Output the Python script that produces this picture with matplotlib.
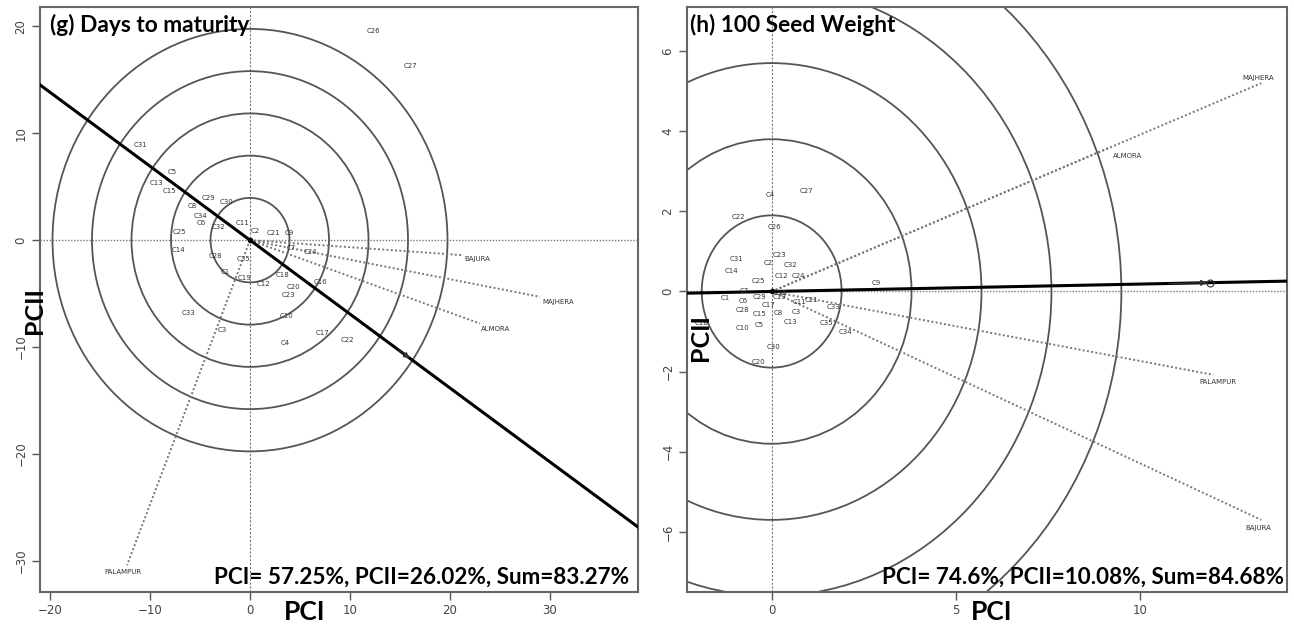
import matplotlib
matplotlib.use("Agg")
import matplotlib.pyplot as plt
from matplotlib.patches import Circle

# ---- (g) Days to maturity ----
g_gen = ["C26", "C27", "C31", "C5", "C13", "C15", "C29", "C30", "C8", "C34", "C6", "C32",
         "C11", "C2", "C21", "C9", "C25", "C14", "C28", "C35", "C1", "C19", "C7", "C24",
         "C12", "C18", "C20", "C23", "C16", "C10", "C33", "C3", "C4", "C17", "C22"]
g_gx = [12.3, 16.0, -10.9, -7.8, -9.4, -8.1, -4.2, -2.4, -5.8, -5.0, -4.9, -3.2,
        -0.8, 0.5, 2.3, 3.9, -7.1, -7.2, -3.5, -0.7, -2.5, -0.5, 4.1, 6.0,
        1.3, 3.3, 4.3, 3.8, 7.0, 3.7, -6.2, -2.8, 3.5, 7.2, 9.7]
g_gy = [19.6, 16.3, 8.9, 6.4, 5.3, 4.6, 3.9, 3.6, 3.2, 2.3, 1.6, 1.2,
        1.6, 0.9, 0.7, 0.7, 0.75, -0.9, -1.5, -1.8, -3.0, -3.5, -0.7, -1.1,
        -4.1, -3.3, -4.4, -5.1, -3.9, -7.1, -6.8, -8.4, -9.6, -8.7, -9.3]
g_env = ["BAJURA", "MAJHERA", "ALMORA", "PALAMPUR"]
g_ex = [21.2, 29.0, 23.0, -12.3]
g_ey = [-1.4, -5.3, -7.8, -30.4]
g_aec = (16.2, -11.2)
g_rings = [3.95, 7.9, 11.85, 15.8, 19.75]
g_xticks = [-20, -10, 0, 10, 20, 30]
g_yticks = [20, 10, 0, -10, -20, -30]

# ---- (h) 100 Seed Weight ----
h_gen = ["C4", "C27", "C22", "C26", "C31", "C2", "C23", "C32", "C14", "C12", "C24", "C25",
         "C7", "C1", "C6", "C29", "C19", "C17", "C8", "C3", "C13", "C28", "C15", "C10",
         "C5", "C11", "C21", "C30", "C20", "C33", "C35", "C34", "C9", "C18", "C16"]
h_gx = [-0.05, 0.95, -0.9, 0.08, -0.95, -0.1, 0.2, 0.5, -1.1, 0.27, 0.73, -0.35,
        -0.75, -1.27, -0.76, -0.32, 0.22, -0.08, 0.18, 0.68, 0.5, -0.8, -0.32, -0.8,
        -0.35, 0.76, 1.08, 0.05, -0.35, 1.68, 1.49, 2.0, 2.85, -1.9, 0.25]
h_gy = [2.4, 2.5, 1.85, 1.6, 0.8, 0.7, 0.9, 0.65, 0.5, 0.38, 0.38, 0.25,
        0.02, -0.17, -0.23, -0.13, -0.15, -0.33, -0.53, -0.5, -0.75, -0.45, -0.55, -0.9,
        -0.83, -0.25, -0.2, -1.38, -1.75, -0.38, -0.78, -1.0, 0.2, -0.78, -0.05]
h_env = ["MAJHERA", "ALMORA", "PALAMPUR", "BAJURA"]
h_ex = [13.3, 9.2, 12.0, 13.3]
h_ey = [5.2, 3.6, -2.08, -5.7]
h_aec = (11.9, 0.22)
h_rings = [1.9, 3.8, 5.7, 7.6, 9.5]
h_xticks = [0, 5, 10]
h_yticks = [6, 4, 2, 0, -2, -4, -6]

GRAY = "#555555"
DOT = (0, (1, 1.2))


def biplot(ax, gen, gx, gy, env, ex, ey, aec, rings, xlim, ylim, xticks, yticks, env_off):
    ax.set_xlim(*xlim)
    ax.set_ylim(*ylim)
    ax.axhline(0, color="#777777", lw=1.0, ls=DOT, zorder=1)
    ax.axvline(0, color="#777777", lw=0.8, ls=(0, (2, 1.5)), zorder=1)
    for r in rings:
        ax.add_patch(Circle((0, 0), r, fill=False, ec=GRAY, lw=1.3, zorder=2))
    for name, x, y, off in zip(env, ex, ey, env_off):
        ax.plot([0, x], [0, y], color="#777777", lw=1.4, ls=DOT, zorder=2)
        ax.annotate(name, (x, y), xytext=off[:2], textcoords="offset points",
                    ha=off[2], va="center", fontsize=5, color="#333333")
    # average environment axis through the origin
    k1 = xlim[1] / aec[0]
    k0 = xlim[0] / aec[0]
    ax.plot([k0 * aec[0], k1 * aec[0]], [k0 * aec[1], k1 * aec[1]], color="black", lw=2.2, zorder=3)
    ax.annotate("", xy=aec, xytext=(0.9 * aec[0], 0.9 * aec[1]),
                arrowprops=dict(arrowstyle="-|>", color="#333333", lw=0.8, mutation_scale=9), zorder=4)
    ax.plot([0], [0], "o", color="black", ms=3, zorder=4)
    for name, x, y in zip(gen, gx, gy):
        ax.text(x, y, name, fontsize=5, color="#333333", ha="center", va="center", zorder=5)
    ax.set_xticks(xticks)
    ax.set_yticks(yticks)
    ax.tick_params(direction="out", length=6, width=1, color="#555555",
                   labelsize=8.5, labelcolor="#444444", pad=3)
    for lab in ax.get_yticklabels():
        lab.set_rotation(90)
        lab.set_va("center")
    for s in ax.spines.values():
        s.set_color("#666666")
        s.set_linewidth(1.5)


fig = plt.figure(figsize=(12.94, 6.36), dpi=100)
W, H = 1294, 636
ax1 = fig.add_axes([40 / W, 44 / H, 598 / W, 585 / H])
ax2 = fig.add_axes([687 / W, 44 / H, 600 / W, 585 / H])

biplot(ax1, g_gen, g_gx, g_gy, g_env, g_ex, g_ey, g_aec, g_rings,
       (-21.0, 38.8), (-32.9, 21.8), g_xticks, g_yticks,
       [(2, -3, "left"), (2, -4, "left"), (1, -4, "left"), (-3, -5, "center")])
biplot(ax2, h_gen, h_gx, h_gy, h_env, h_ex, h_ey, h_aec, h_rings,
       (-2.3, 14.0), (-7.5, 7.1), h_xticks, h_yticks,
       [(-2, 4, "center"), (2, -6, "left"), (3, -5, "center"), (-2, -6, "center")])
ax2.plot([h_aec[0]], [h_aec[1]], "o", mfc="none", mec="#333333", ms=5, mew=0.8, zorder=4)

tfont = dict(family="Lato", weight="bold", color="black")
ax1.text(0.016, 0.988, "(g) Days to maturity", transform=ax1.transAxes, ha="left", va="top",
         fontsize=16.4, **tfont)
ax2.text(0.005, 0.988, "(h) 100 Seed Weight", transform=ax2.transAxes, ha="left", va="top",
         fontsize=16.3, **tfont)
ax1.text(0.985, 0.008, "PCI= 57.25%, PCII=26.02%, Sum=83.27%", transform=ax1.transAxes,
         ha="right", va="bottom", fontsize=16.2, **tfont)
ax2.text(0.995, 0.008, "PCI= 74.6%, PCII=10.08%, Sum=84.68%", transform=ax2.transAxes,
         ha="right", va="bottom", fontsize=16.2, **tfont)

fig.text(305 / W, 1 - 612 / H, "PCI", ha="center", va="center", fontsize=19, **tfont)
fig.text(992 / W, 1 - 612 / H, "PCI", ha="center", va="center", fontsize=19, **tfont)
fig.text(34 / W, 1 - 311 / H, "PCII", ha="center", va="center", rotation=90, fontsize=18, **tfont)
fig.text(700 / W, 1 - 338 / H, "PCII", ha="center", va="center", rotation=90, fontsize=18, **tfont)

fig.savefig("out.png", dpi=100)
